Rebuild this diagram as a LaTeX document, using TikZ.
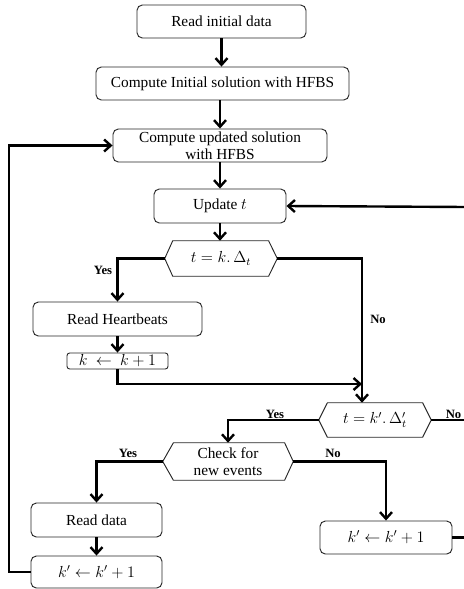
\documentclass[tikz,border=0pt]{standalone}
\usepackage{fontspec}
\setmainfont{Liberation Serif}
\usetikzlibrary{arrows.meta}
\begin{document}
\begin{tikzpicture}[x=0.75pt,y=-0.75pt,
  box/.style={draw=black!85,line width=0.7pt,rounded corners=4pt,align=center,inner sep=1pt,
    font=\fontsize{11.5}{12.75}\selectfont},
  hexnode/.style={inner sep=1pt,align=center,font=\fontsize{11.5}{12.75}\selectfont},
  hexline/.style={draw=black!85,line width=0.7pt},
  conn/.style={line width=1.8pt,-{Straight Barb[length=5pt,width=9pt]}},
  plain/.style={line width=1.8pt},
  lab/.style={font=\fontsize{9.5}{10}\selectfont\bfseries,inner sep=0pt}]
\useasboundingbox (0,0) rectangle (464,589);
% boxes
\node[box,minimum width=126.75pt,minimum height=24.75pt] (ri) at (221.5,21.5) {Read initial data};
\node[box,minimum width=189.75pt,minimum height=24.75pt] (ci) at (222.5,83.5) {Compute Initial solution with HFBS};
\node[box,minimum width=160.5pt,minimum height=24.75pt] (cu) at (220,145.5) {Compute updated solution\\with HFBS};
\node[box,minimum width=99pt,minimum height=25.5pt] (ut) at (220,206) {Update $t$};
\node[hexnode,minimum width=84pt,minimum height=26.25pt] (h1) at (221,258.5) {$t = k.\,\Delta_t$};
\node[box,minimum width=126.75pt,minimum height=25.5pt] (rh) at (117.5,319) {Read Heartbeats};
\node[box,rounded corners=2pt,inner sep=0pt,minimum width=75.75pt,minimum height=12pt] (kb) at (117.5,361) {$k\ \leftarrow\ k+1$};
\node[hexnode,minimum width=84pt,minimum height=25.5pt] (h2) at (375,420) {$t = k'.\,\Delta'_t$};
\node[hexnode,minimum width=97.5pt,minimum height=27.75pt] (ch) at (228,461.5) {Check for\\new events};
\node[box,minimum width=98.25pt,minimum height=25.5pt] (rd) at (96.5,520) {Read data};
\node[box,minimum width=98.25pt,minimum height=24pt] (kl) at (96.5,572) {$k' \leftarrow k' + 1$};
\node[box,minimum width=99pt,minimum height=24.75pt] (kr) at (386,537.5) {$k' \leftarrow k' + 1$};
% hexagon outlines
\draw[hexline] (h1.west) -- ([xshift=6pt]h1.north west) -- ([xshift=-6.5pt]h1.north east) -- (h1.east) -- ([xshift=-6.5pt]h1.south east) -- ([xshift=6pt]h1.south west) -- cycle;
\draw[hexline] (h2.west) -- ([xshift=6.5pt]h2.north west) -- ([xshift=-6.5pt]h2.north east) -- (h2.east) -- ([xshift=-6.5pt]h2.south east) -- ([xshift=6.5pt]h2.south west) -- cycle;
\draw[hexline] (ch.west) -- ([xshift=8pt]ch.north west) -- ([xshift=-6.5pt]ch.north east) -- (ch.east) -- ([xshift=-6.5pt]ch.south east) -- ([xshift=8pt]ch.south west) -- cycle;
% coordinates
\coordinate (nx) at (362,258.5);
\coordinate (j) at (362,384);
\coordinate (lp) at (9,572);
\coordinate (e1) at (466,420);
\coordinate (e2) at (466,537.5);
\coordinate (e3) at (466,207);
% connectors
\draw[conn] (ri) -- (ri |- ci.north);
\draw[conn] (cu.north |- ci.south) -- (cu.north);
\draw[conn] (cu) -- (ut);
\draw[conn] (ut) -- (ut |- h1.north);
\draw[conn] (h1.west) -| (rh.north);
\draw[conn] (rh) -- (kb);
\draw[conn] (kb.south) |- (j);
\draw[conn] (h1.east) -- (nx) -- (nx |- h2.north);
\draw[conn] (h2.west) -| (ch.north);
\draw[plain] (h2.east) -- (e1);
\draw[conn] (ch.west) -| (rd.north);
\draw[conn] (ch.east) -| (kr.north);
\draw[conn] (rd) -- (kl);
\draw[conn] (kl.west) -- (lp) |- (cu.west);
\draw[plain] (kr.east) -- (e2);
\draw[conn] (e3) -- (ut.east);
% labels
\node[lab] (y1) at (103,270) {Yes};
\node[lab] (n1) at (378,319) {No};
\node[lab] (y2) at (275,414) {Yes};
\node[lab] (n2) at (453.5,414) {No};
\node[lab] (y3) at (128,453) {Yes};
\node[lab] (n3) at (333,453) {No};
\end{tikzpicture}
\end{document}
